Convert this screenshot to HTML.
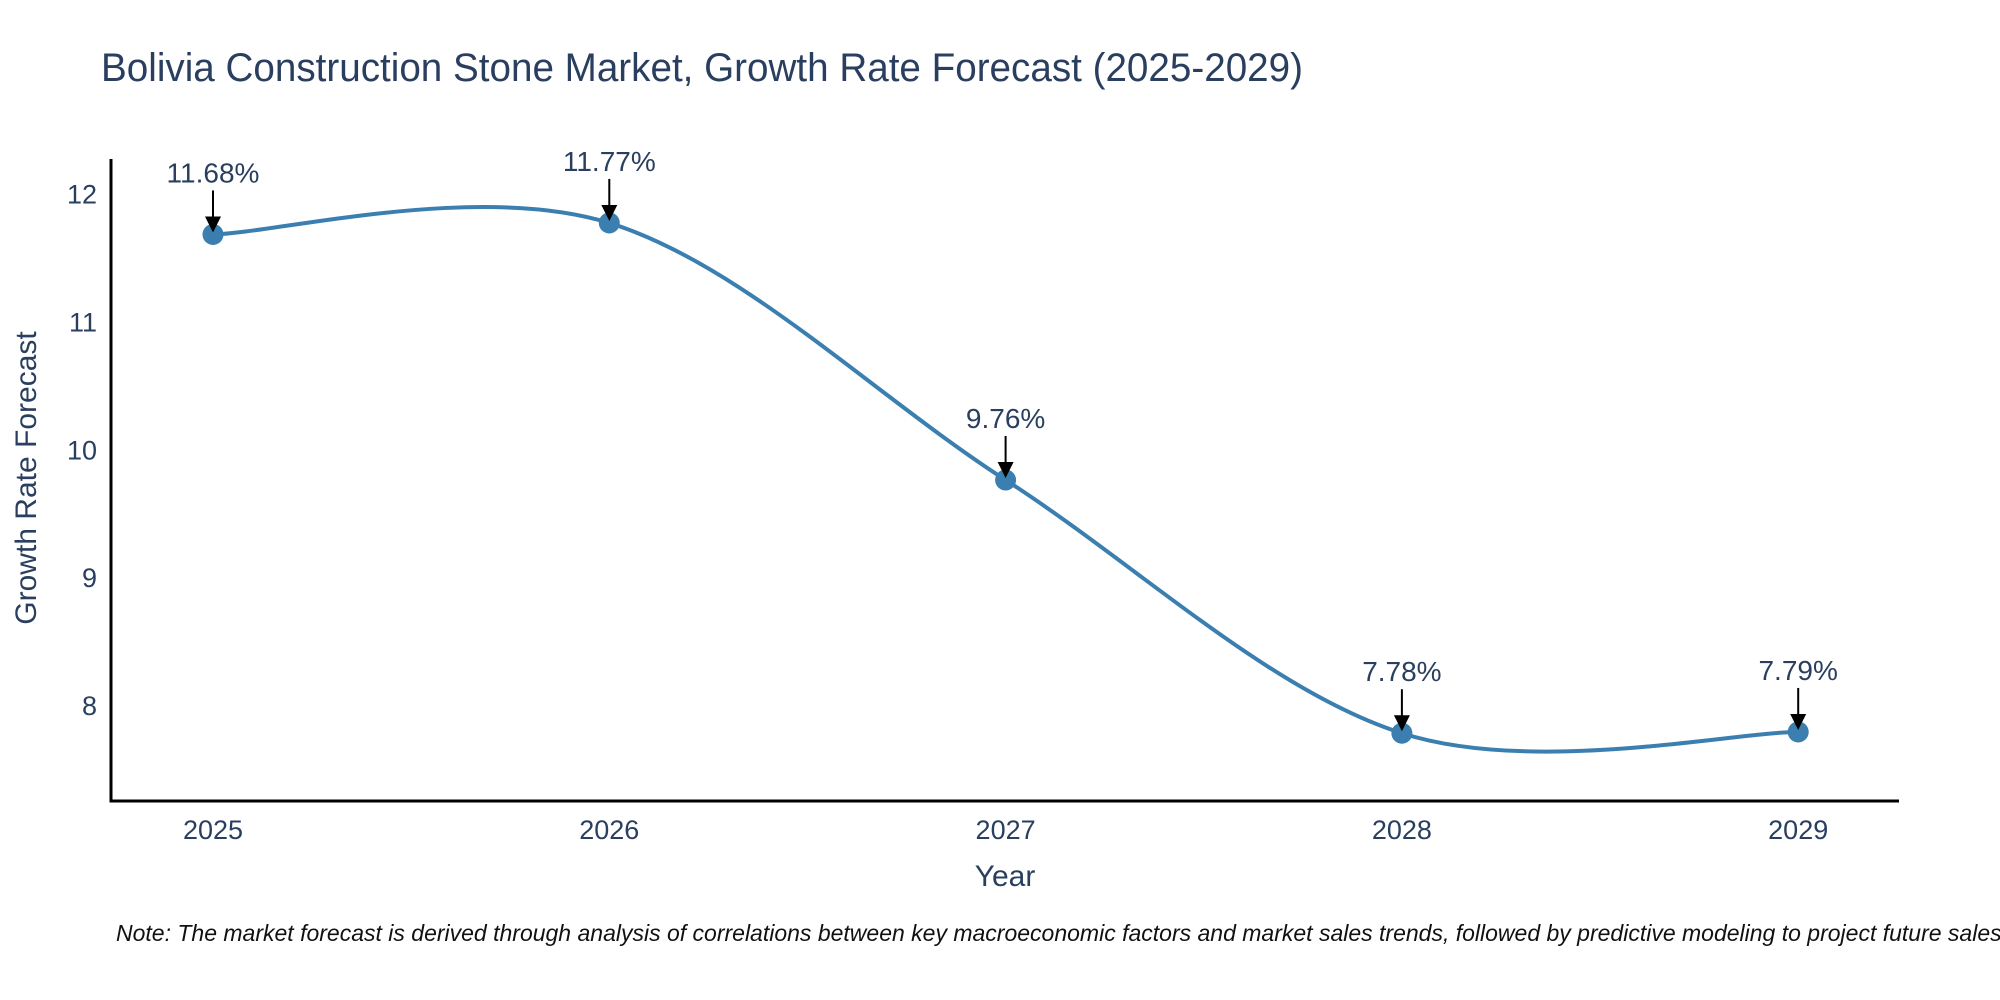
<!DOCTYPE html>
<html><head><meta charset="utf-8"><style>
body{margin:0;background:#fff}
svg{display:block;font-family:"Liberation Sans",sans-serif}
</style></head><body>
<svg id="chart" width="2000" height="1000">
<text x="101" y="81" font-size="40" fill="#2a3f5f" textLength="1202" lengthAdjust="spacingAndGlyphs">Bolivia Construction Stone Market, Growth Rate Forecast (2025-2029)</text>
<g id="plot"></g>
<text x="1005" y="886" font-size="30" fill="#2a3f5f" text-anchor="middle">Year</text>
<text transform="translate(36,478) rotate(-90)" font-size="30" fill="#2a3f5f" text-anchor="middle">Growth Rate Forecast</text>
<text x="116" y="941" font-size="23" font-style="italic" fill="#111">Note: The market forecast is derived through analysis of correlations between key macroeconomic factors and market sales trends, followed by predictive modeling to project future sales.</text>
</svg>
<script>
const categories = ["2025","2026","2027","2028","2029"];
const values = [11.68, 11.77, 9.76, 7.78, 7.79];
const labels = ["11.68%","11.77%","9.76%","7.78%","7.79%"];
const yTicks = [8, 9, 10, 11, 12];

const NS = "http://www.w3.org/2000/svg";
const g = document.getElementById("plot");
const x0 = 213, xStep = 396.3;
const yMin = 7.25, yMax = 12.27, yTop = 159, yBot = 801;
const xs = i => x0 + i * xStep;
const ys = v => yBot - (v - yMin) / (yMax - yMin) * (yBot - yTop);
function el(t, a) { const e = document.createElementNS(NS, t); for (const k in a) e.setAttribute(k, a[k]); g.appendChild(e); return e; }

let ax = el("line", {x1:111, y1:yTop, x2:111, y2:yBot+1.5, stroke:"#000", "stroke-width":3});


let bx = el("line", {x1:109.5, y1:yBot, x2:1899, y2:yBot, stroke:"#000", "stroke-width":3});



yTicks.forEach(t => {
  const e = el("text", {x:97, y:ys(t)+10, "font-size":27, fill:"#2a3f5f", "text-anchor":"end"});
  e.textContent = t;
  
  
});
categories.forEach((c, i) => {
  const e = el("text", {x:xs(i), y:839, "font-size":27, fill:"#2a3f5f", "text-anchor":"middle"});
  e.textContent = c;
  
  
});

const pts = values.map((v, i) => [xs(i), ys(v)]);
const s = 0.5;
let d = "M" + pts[0][0] + "," + pts[0][1];
for (let i = 0; i < pts.length - 1; i++) {
  const p0 = pts[Math.max(0, i-1)], p1 = pts[i], p2 = pts[i+1], p3 = pts[Math.min(pts.length-1, i+2)];
  const c1 = [p1[0] + (p2[0]-p0[0])*s/3, p1[1] + (p2[1]-p0[1])*s/3];
  const c2 = [p2[0] - (p3[0]-p1[0])*s/3, p2[1] - (p3[1]-p1[1])*s/3];
  d += " C" + c1 + " " + c2 + " " + p2;
}
const line = el("path", {d:d, fill:"none", stroke:"#3a7fb0", "stroke-width":4});



pts.forEach((p, i) => {
  const m = el("circle", {cx:p[0], cy:p[1], r:10.5, fill:"#3a7fb0"});
  
  
  const a = el("line", {x1:p[0], y1:p[1]-44, x2:p[0], y2:p[1]-14, stroke:"#000", "stroke-width":2});
  
  
  const h = el("polygon", {points:(p[0]-8)+","+(p[1]-18)+" "+(p[0]+8)+","+(p[1]-18)+" "+p[0]+","+(p[1]-2), fill:"#000"});
  
  
  const t = el("text", {x:p[0], y:p[1]-52, "font-size":28, fill:"#2a3f5f", "text-anchor":"middle"});
  t.textContent = labels[i];
  
  
});
</script>
</body></html>
